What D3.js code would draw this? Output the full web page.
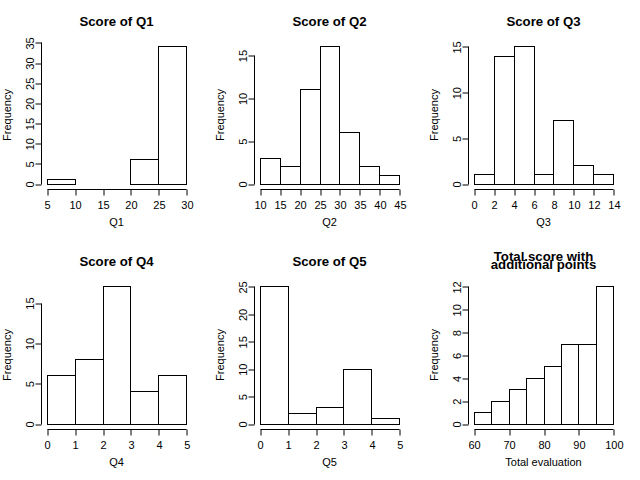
<!DOCTYPE html>
<html>
<head>
<meta charset="utf-8">
<script src="https://cdn.jsdelivr.net/npm/d3@7"></script>
<style>
  html, body { margin: 0; padding: 0; background: #fff; }
  svg { display: block; }
  text { font-family: "Liberation Sans", Arial, sans-serif; fill: #000; }
</style>
</head>
<body>
<svg id="chart" width="640" height="480"></svg>
<script>
// ---- data ----
const titles = [["Score of Q1"], ["Score of Q2"], ["Score of Q3"], ["Score of Q4"], ["Score of Q5"], ["Total.score with", "additional points"]];
const xLabels = ["Q1", "Q2", "Q3", "Q4", "Q5", "Total evaluation"];

const q1Breaks = [5, 10, 15, 20, 25, 30];
const q1Counts = [1, 0, 0, 6, 34];
const q2Breaks = [10, 15, 20, 25, 30, 35, 40, 45];
const q2Counts = [3, 2, 11, 16, 6, 2, 1];
const q3Breaks = [0, 2, 4, 6, 8, 10, 12, 14];
const q3Counts = [1, 14, 15, 1, 7, 2, 1];
const q4Breaks = [0, 1, 2, 3, 4, 5];
const q4Counts = [6, 8, 17, 4, 6];
const q5Breaks = [0, 1, 2, 3, 4, 5];
const q5Counts = [25, 2, 3, 10, 1];
const totalBreaks = [60, 65, 70, 75, 80, 85, 90, 95, 100];
const totalCounts = [1, 2, 3, 4, 5, 7, 7, 12];

const q1XTicks = [5, 10, 15, 20, 25, 30];
const q2XTicks = [10, 15, 20, 25, 30, 35, 40, 45];
const q3XTicks = [0, 2, 4, 6, 8, 10, 12, 14];
const q4XTicks = [0, 1, 2, 3, 4, 5];
const q5XTicks = [0, 1, 2, 3, 4, 5];
const totalXTicks = [60, 70, 80, 90, 100];

const q1YTicks = [0, 5, 10, 15, 20, 25, 30, 35];
const q2YTicks = [0, 5, 10, 15];
const q3YTicks = [0, 5, 10, 15];
const q4YTicks = [0, 5, 10, 15];
const q5YTicks = [0, 5, 10, 15, 20, 25];
const totalYTicks = [0, 2, 4, 6, 8, 10, 12];

const panels = [
  { breaks: q1Breaks, counts: q1Counts, xt: q1XTicks, yt: q1YTicks },
  { breaks: q2Breaks, counts: q2Counts, xt: q2XTicks, yt: q2YTicks },
  { breaks: q3Breaks, counts: q3Counts, xt: q3XTicks, yt: q3YTicks },
  { breaks: q4Breaks, counts: q4Counts, xt: q4XTicks, yt: q4YTicks },
  { breaks: q5Breaks, counts: q5Counts, xt: q5XTicks, yt: q5YTicks },
  { breaks: totalBreaks, counts: totalCounts, xt: totalXTicks, yt: totalYTicks }
];

// ---- layout ----
const svg = d3.select("#chart");
const W = 640, H = 480, cols = 3;
const pw = W / 3, ph = H / 2;
const pL = 41, pR = 192, pT = 41, pB = 189;
const crisp = v => Math.round(v) + 0.5;

panels.forEach((p, i) => {
  const ox = Math.round((i % cols) * pw), oy = Math.floor(i / cols) * ph;
  const g = svg.append("g").attr("transform", `translate(${ox},${oy})`);
  const lo = p.breaks[0], hi = p.breaks[p.breaks.length - 1];
  const ext = 0.04 * (hi - lo);
  const ymax = d3.max(p.counts);
  const x = d3.scaleLinear().domain([lo - ext, hi + ext]).range([pL, pR]);
  const y = d3.scaleLinear().domain([-0.04 * ymax, 1.04 * ymax]).range([pB, pT]);

  // bars
  const bins = p.counts.map((c, k) => ({ x0: p.breaks[k], x1: p.breaks[k + 1], c }));
  g.selectAll("rect.bar").data(bins).enter().append("rect")
    .attr("class", "bar")
    .attr("x", d => crisp(x(d.x0)))
    .attr("y", d => crisp(y(d.c)))
    .attr("width", d => Math.round(x(d.x1)) - Math.round(x(d.x0)))
    .attr("height", d => Math.round(y(0)) - Math.round(y(d.c)))
    .attr("fill", "#fff").attr("stroke", "#000").attr("stroke-width", 1);

  // x axis
  const xa = g.append("g").attr("transform", `translate(0.5,${crisp(pB)})`)
    .call(d3.axisBottom(x).tickValues(p.xt).tickSize(6).tickSizeOuter(0).tickFormat(d3.format("d")));
  xa.select(".domain").remove();
  xa.selectAll(".tick line").attr("stroke", "#000").attr("transform", d => `translate(${Math.round(x(d)) - x(d)},0)`);
  xa.selectAll(".tick text").attr("y", 19).attr("dy", 0).attr("font-size", 11).attr("font-family", null);
  g.append("line")
    .attr("x1", crisp(x(p.xt[0]))).attr("x2", crisp(x(p.xt[p.xt.length - 1])))
    .attr("y1", crisp(pB)).attr("y2", crisp(pB)).attr("stroke", "#000");

  // y axis
  const ya = g.append("g").attr("transform", `translate(${crisp(pL)},0.5)`)
    .call(d3.axisLeft(y).tickValues(p.yt).tickSize(6).tickSizeOuter(0).tickFormat(d3.format("d")));
  ya.select(".domain").remove();
  ya.selectAll(".tick line").attr("stroke", "#000").attr("transform", d => `translate(0,${Math.round(y(d)) - y(d)})`);
  ya.selectAll(".tick text")
    .attr("x", null).attr("dy", 0).attr("font-size", 11).attr("font-family", null)
    .attr("text-anchor", "middle")
    .attr("transform", "translate(-8,0) rotate(-90)");
  g.append("line")
    .attr("x1", crisp(pL)).attr("x2", crisp(pL))
    .attr("y1", crisp(y(p.yt[0]))).attr("y2", crisp(y(p.yt[p.yt.length - 1]))).attr("stroke", "#000");

  // titles
  const cx = (pL + pR) / 2;
  const tl = titles[i];
  if (tl.length === 1) {
    g.append("text").attr("x", cx).attr("y", 26).attr("text-anchor", "middle")
      .attr("font-size", 13.2).attr("font-weight", "bold").text(tl[0]);
  } else {
    tl.forEach((t, k) => {
      g.append("text").attr("x", cx).attr("y", 20.5 + k * 8.5).attr("text-anchor", "middle")
        .attr("font-size", 13.2).attr("font-weight", "bold").text(t);
    });
  }
  // x label
  g.append("text").attr("x", cx).attr("y", 226).attr("text-anchor", "middle")
    .attr("font-size", 11).text(xLabels[i]);
  // y label
  g.append("text").attr("transform", `translate(11,${(pT + pB) / 2}) rotate(-90)`)
    .attr("text-anchor", "middle").attr("font-size", 11).text("Frequency");
});
</script>
</body>
</html>
